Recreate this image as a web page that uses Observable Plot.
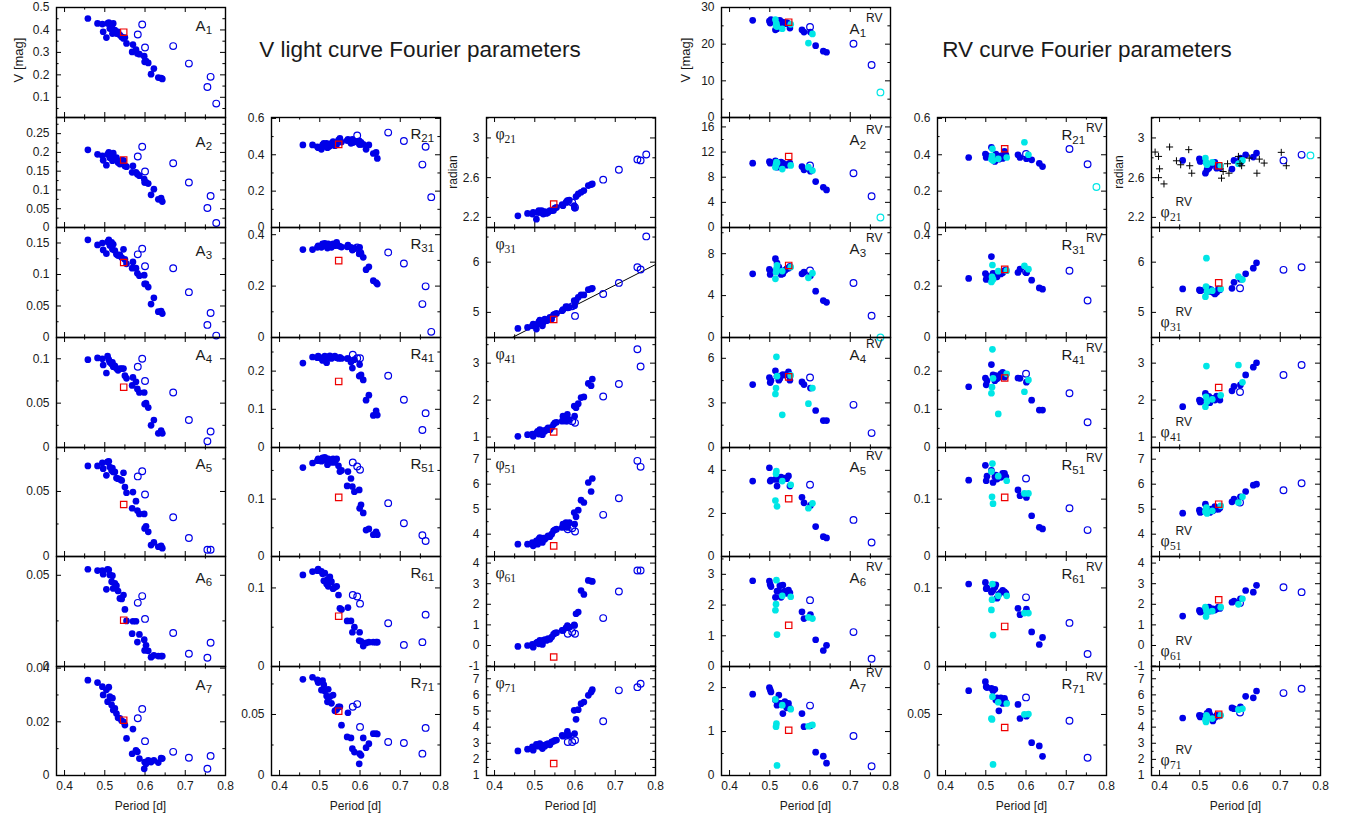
<!DOCTYPE html>
<html><head><meta charset="utf-8">
<script src="https://cdn.jsdelivr.net/npm/d3@7"></script>
<script src="https://cdn.jsdelivr.net/npm/@observablehq/plot@0.6"></script>
<style>
body{margin:0;background:#fff;}
#root{position:relative;width:1348px;height:816px;font-family:"Liberation Sans",Arial,sans-serif;color:#1a1a1a;overflow:hidden;}
.t{position:absolute;white-space:nowrap;line-height:1;}
</style></head><body><div id="root"></div>
<script>
// ---------------- DATA ----------------
// V light curve: periods of filled stars, open-circle stars, red-square star
const periodV = [0.458,0.482,0.494,0.496,0.504,0.507,0.510,0.5125,0.517,0.519,0.521,0.525,0.529,0.533,0.5375,0.542,0.5465,0.550,0.554,0.570,0.568,0.5775,0.581,0.586,0.598,0.599,0.6025,0.608,0.615,0.622,0.633,0.640,0.643];
const openPeriodV = [0.582,0.593,0.600,0.670,0.709,0.755,0.763,0.777];
const redPeriod = 0.547;

const A1 = [0.451,0.429,0.426,0.392,0.366,0.429,0.433,0.406,0.417,0.384,0.429,0.399,0.384,0.392,0.377,0.369,0.362,0.366,0.340,0.335,0.302,0.313,0.295,0.292,0.283,0.258,0.261,0.253,0.203,0.228,0.188,0.186,0.182];
const A1o = [0.38,0.424,0.322,0.328,0.25,0.146,0.191,0.072];
const A2 = [0.207,0.195,0.191,0.179,0.166,0.195,0.200,0.186,0.191,0.178,0.198,0.182,0.186,0.173,0.169,0.179,0.179,0.164,0.162,0.164,0.147,0.147,0.142,0.138,0.129,0.120,0.120,0.117,0.087,0.102,0.075,0.078,0.069];
const A2o = [0.189,0.215,0.149,0.171,0.12,0.052,0.084,0.012];
const A3 = [0.155,0.147,0.150,0.139,0.133,0.152,0.155,0.146,0.151,0.140,0.148,0.138,0.132,0.130,0.131,0.127,0.140,0.124,0.117,0.120,0.110,0.110,0.102,0.098,0.099,0.085,0.085,0.080,0.053,0.063,0.041,0.042,0.038];
const A3o = [0.132,0.141,0.113,0.11,0.072,0.02,0.039,0.003];
const A4 = [0.099,0.101,0.100,0.093,0.084,0.103,0.099,0.096,0.094,0.096,0.091,0.092,0.089,0.087,0.089,0.089,0.089,0.081,0.078,0.079,0.070,0.074,0.066,0.062,0.062,0.049,0.050,0.045,0.025,0.031,0.016,0.019,0.016];
const A4o = [0.091,0.100,0.075,0.062,0.031,0.007,0.018,null];
const A5 = [0.0696,0.0696,0.0720,0.0675,0.0624,0.0727,0.0732,0.0688,0.0662,0.0680,0.0650,0.0650,0.0603,0.0598,0.0593,0.0585,0.0644,0.0534,0.0490,0.0495,0.0371,0.0425,0.0353,0.0327,0.0327,0.0216,0.0232,0.0190,0.0088,0.0108,0.0075,0.0082,0.0064];
const A5o = [0.0616,0.0655,0.0477,0.0302,0.0142,0.0052,0.0052,null];
const A6 = [0.0533,0.0526,0.0526,0.0506,0.0423,0.0533,0.0530,0.0502,0.0465,0.0498,0.0428,0.0456,0.0443,0.0414,0.0373,0.0370,0.0392,0.0313,0.0250,0.0248,0.0180,0.0248,0.0134,0.0176,0.0147,0.0088,0.0116,0.0086,0.0051,0.0061,0.0057,0.0057,0.0057];
const A6o = [0.0349,0.0386,0.0261,0.0184,0.0070,0.0048,0.0130,null];
const A7 = [0.0355,0.0346,0.0331,0.0300,0.0319,0.0275,0.0329,0.0294,0.0263,0.0288,0.0244,0.0250,0.0231,0.0215,0.0213,0.0204,0.0200,0.0188,0.0138,0.0173,0.0081,0.0094,0.0088,0.0063,0.0025,0.0050,0.0044,0.0056,0.0050,0.0056,0.0048,0.0065,0.0063];
const A7o = [0.0213,0.0248,0.0128,0.0088,0.0066,0.0025,0.0073,null];
const redA = [0.39,0.18,0.119,0.068,0.040,0.0254,0.0206];

const R21 = [0.454,0.454,0.444,0.439,0.430,0.454,0.463,0.448,0.463,0.439,0.444,0.448,0.463,0.472,0.450,0.457,0.481,0.490,0.470,0.485,0.478,0.463,0.485,0.472,0.476,0.457,0.469,0.457,0.430,0.454,0.407,0.413,0.380];
const R21o = [0.47,0.506,0.46,0.522,0.476,0.346,0.444,0.167];
const R31 = [0.342,0.342,0.351,0.357,0.351,0.364,0.357,0.366,0.357,0.348,0.364,0.357,0.351,0.364,0.357,0.370,0.357,0.355,0.352,0.360,0.353,0.351,0.340,0.348,0.325,0.351,0.327,0.312,0.264,0.275,0.221,0.214,0.208];
const R31o = [0.345,0.35,0.33,0.331,0.288,0.13,0.199,0.022];
const R41 = [0.221,0.237,0.235,0.239,0.233,0.228,0.237,0.239,0.222,0.233,0.237,0.240,0.233,0.237,0.239,0.235,0.233,0.236,0.233,0.233,0.233,0.224,0.208,0.230,0.187,0.217,0.190,0.177,0.124,0.137,0.084,0.096,0.085];
const R41o = [0.243,0.234,0.234,0.188,0.125,0.046,0.09,null];
const R51 = [0.155,0.163,0.167,0.170,0.166,0.172,0.168,0.173,0.170,0.160,0.170,0.167,0.164,0.170,0.164,0.170,0.158,0.148,0.150,0.148,0.123,0.136,0.122,0.113,0.116,0.084,0.090,0.076,0.046,0.048,0.038,0.043,0.038];
const R51o = [0.164,0.157,0.151,0.093,0.058,0.037,0.027,null];
const R61 = [0.1165,0.1208,0.122,0.124,0.121,0.118,0.109,0.119,0.105,0.111,0.102,0.114,0.108,0.099,0.101,0.102,0.091,0.074,0.0725,0.075,0.058,0.058,0.0436,0.050,0.033,0.0436,0.032,0.026,0.030,0.031,0.031,0.031,0.031];
const R61o = [0.091,0.089,0.08,0.055,0.0275,0.031,0.066,null];
const R71 = [0.0788,0.0805,0.0783,0.0761,0.0700,0.0777,0.0742,0.0692,0.0651,0.0604,0.0706,0.0646,0.0591,0.0659,0.0530,0.0541,0.0563,0.0563,0.0412,0.0514,0.0316,0.0308,0.0220,0.0192,0.0096,0.0179,0.0165,0.0308,0.0228,0.0261,0.0343,0.0343,0.0340];
const R71o = [0.0563,0.0585,0.0398,0.0275,0.0266,0.0179,0.039,null];
const redR = [0.457,0.299,0.173,0.103,0.064,0.0527];

const F21 = [2.216,2.240,2.233,2.250,2.182,2.250,2.267,2.250,2.267,2.250,2.233,2.257,2.240,2.250,2.267,2.267,2.270,2.294,2.300,2.318,2.328,2.351,2.368,2.375,2.318,2.294,2.409,2.436,2.453,2.470,2.520,2.530,2.537];
const F21o = [2.36,2.35,2.30,2.58,2.68,2.784,2.774,2.834];
const F31 = [4.680,4.700,4.733,4.767,4.667,4.767,4.813,4.847,4.767,4.733,4.800,4.867,4.833,4.847,4.900,4.870,4.953,4.967,4.980,5.053,5.033,5.113,5.100,5.100,5.233,5.133,5.233,5.300,5.347,5.347,5.453,5.467,5.480];
const F31o = [5.10,5.12,4.93,5.367,5.587,5.90,5.853,6.513];
const F41 = [1.020,1.064,1.080,1.020,1.110,1.155,1.080,1.200,1.137,1.064,1.174,1.155,1.200,1.246,1.200,1.265,1.338,1.384,1.400,1.566,1.430,1.430,1.612,1.475,1.840,1.566,1.795,1.904,2.068,2.087,2.452,2.388,2.570];
const F41o = [1.45,1.43,1.384,2.096,2.434,3.374,2.909,null];
const F51 = [3.600,3.600,3.667,3.533,3.733,3.600,3.800,3.867,3.733,3.667,3.840,3.800,3.867,3.933,3.900,4.000,4.133,4.173,4.200,4.400,4.267,4.467,4.267,4.467,4.867,4.400,4.693,4.960,5.360,5.267,6.067,5.707,6.227];
const F51o = [4.2,4.24,4.107,4.773,5.44,6.933,6.693,null];
const F61 = [-0.045,0.000,0.050,-0.080,0.130,0.165,0.080,0.245,0.200,0.050,0.245,0.280,0.245,0.330,0.300,0.410,0.540,0.600,0.620,0.730,0.730,0.860,0.970,0.890,1.000,0.970,1.540,1.620,2.670,2.480,3.160,3.130,3.110];
const F61o = [0.57,0.65,0.57,1.33,2.62,3.64,3.64,null];
const F71 = [2.526,2.630,2.773,2.567,2.938,2.814,2.876,2.979,2.773,2.670,2.876,2.814,2.938,2.979,2.900,3.082,3.124,3.186,3.200,3.433,3.495,3.495,3.742,3.495,5.040,3.600,4.485,5.082,5.454,5.557,5.970,6.175,6.320];
const F71o = [3.08,3.08,3.19,4.36,6.28,6.48,6.69,null];
const redF = [2.334,4.86,1.137,3.533,-0.56,1.74];
// linear fit drawn in the phi31 panel: phi31 = a + b * P
const fit31 = {a: 2.688, b: 4.08};

// RV curve: filled, cyan, open, open-cyan stars
const periodRV = [0.4575,0.499,0.501,0.503,0.514,0.518,0.5225,0.525,0.528,0.5325,0.5375,0.542,0.5465,0.550,0.580,0.585,0.601,0.614,0.633,0.641];
const cyanPeriodRV = [0.514,0.5165,0.5155,0.518,0.531,0.552,0.596,0.606];
const openPeriodRV = [0.600,0.708,0.753];
const openCyanPeriodRV = [0.775];

const A1rv = [26.5,26.3,25.75,26.7,23.9,24.2,26.3,26.5,25.75,26.0,25.6,25.9,25.6,24.4,23.9,23.3,23.3,19.6,18.1,17.8];
const A1rvC = [26.7,25.6,25.0,24.8,24.2,25.4,20.3,22.8], A1rvO = [24.7,20.1,14.3], A1rvOC = [6.85];
const A2rv = [10.24,10.5,10.24,10.3,10.6,9.6,10.1,9.9,10.4,10.24,10.0,9.9,10.1,10.24,9.7,9.17,8.96,7.3,6.4,5.97];
const A2rvC = [9.6,10.4,10.0,10.3,9.3,9.87,9.6,9.07], A2rvO = [9.87,8.64,4.96], A2rvOC = [1.6];
const A3rv = [6.08,6.5,6.02,6.3,7.52,7.1,6.72,6.4,6.02,6.08,6.4,6.56,6.62,6.78,6.08,6.24,5.9,4.42,3.52,3.36];
const A3rvC = [5.6,6.56,6.24,6.88,6.34,6.72,5.7,6.14], A3rvO = [6.4,5.2,2.08], A3rvOC = [0];
const A4rv = [4.23,4.71,4.37,4.5,5.16,4.8,4.53,4.64,4.82,4.91,4.87,4.91,5.09,4.53,4.41,4.23,4.0,2.49,1.81,1.81];
const A4rvC = [3.6,6.1,4.0,4.8,2.2,4.85,2.95,4.0], A4rvO = [4.71,2.87,0.97];
const A5rv = [3.5,4.12,3.5,3.55,3.58,3.27,3.58,3.64,3.69,3.61,3.64,3.61,3.74,3.27,2.75,2.49,2.37,1.39,0.92,0.86];
const A5rvC = [2.6,3.97,3.84,2.33,3.5,3.33,2.24,2.47], A5rvO = [3.33,1.7,0.65];
const A6rv = [2.79,2.78,2.67,2.6,2.25,2.45,2.45,2.63,2.25,2.65,2.45,2.38,2.49,2.4,1.78,1.56,1.69,0.87,0.52,0.69];
const A6rvC = [1.83,2.81,2.03,1.04,2.3,2.27,1.6,1.56], A6rvO = [2.16,1.12,0.25];
const A7rv = [1.85,2.0,1.95,1.9,1.72,1.6,1.83,1.64,1.64,1.41,1.68,1.54,1.64,1.53,1.41,1.11,1.13,0.53,0.44,0.28];
const A7rvC = [1.73,1.18,1.11,0.23,1.6,1.51,1.12,1.15], A7rvO = [1.59,0.9,0.21];
const redArv = [26.0,11.3,6.88,4.75,2.68,1.34,1.03];

const R21rv = [0.385,0.404,0.385,0.395,0.441,0.39,0.363,0.404,0.39,0.376,0.394,0.38,0.419,0.4,0.4,0.385,0.378,0.372,0.353,0.335];
const R21rvC = [0.376,0.433,0.394,0.368,0.378,0.385,0.469,0.4], R21rvO = [0.404,0.432,0.348], R21rvOC = [0.223];
const R31rv = [0.23,0.249,0.226,0.24,0.315,0.25,0.247,0.236,0.236,0.25,0.247,0.252,0.26,0.262,0.253,0.266,0.252,0.223,0.193,0.188];
const R31rvC = [0.216,0.282,0.236,0.226,0.258,0.26,0.279,0.266], R31rvO = [0.256,0.26,0.144];
const R41rv = [0.159,0.182,0.164,0.175,0.217,0.19,0.175,0.188,0.18,0.184,0.193,0.197,0.184,0.19,0.182,0.181,0.171,0.124,0.098,0.098];
const R41rvC = [0.142,0.257,0.158,0.181,0.088,0.193,0.146,0.177], R41rvO = [0.193,0.142,0.066];
const R51rv = [0.133,0.159,0.132,0.14,0.15,0.129,0.139,0.142,0.135,0.139,0.138,0.145,0.145,0.139,0.116,0.106,0.103,0.071,0.051,0.048];
const R51rvC = [0.148,0.162,0.104,0.092,0.14,0.132,0.11,0.11], R51rvO = [0.136,0.084,0.046];
const R61rv = [0.105,0.107,0.099,0.1,0.0945,0.097,0.101,0.104,0.087,0.092,0.0945,0.097,0.095,0.093,0.074,0.066,0.073,0.044,0.028,0.037];
const R61rvC = [0.072,0.105,0.085,0.04,0.09,0.09,0.068,0.068], R61rvO = [0.088,0.0555,0.016];
const R71rv = [0.0695,0.0769,0.0728,0.072,0.0714,0.0695,0.0706,0.0618,0.0637,0.053,0.0637,0.059,0.0632,0.06,0.0582,0.0467,0.0486,0.0269,0.0242,0.0157];
const R71rvC = [0.0467,0.0646,0.0459,0.0091,0.06,0.059,0.05,0.0503], R71rvO = [0.064,0.0448,0.0146];
const redRrv = [0.433,0.265,0.182,0.103,0.051,0.0393];

const F21rv = [2.774,2.79,2.764,2.77,2.645,2.68,2.696,2.713,2.73,2.736,2.753,2.696,2.72,2.70,2.686,2.774,2.797,2.83,2.807,2.848];
const F21rvC = [2.797,2.747,2.753,2.73,2.753,2.72,2.74,2.774], F21rvO = [2.76,2.774,2.83], F21rvOC = [2.824];
const plusPeriod = [0.389,0.3975,0.400,0.3975,0.411,0.425,0.442,0.4525,0.4725,0.475,0.480,0.554,0.558,0.569,0.5725,0.596,0.600,0.604,0.623,0.642,0.648,0.660,0.7025,0.715];
const plusF21 = [2.858,2.814,2.689,2.600,2.537,2.909,2.770,2.730,2.882,2.720,2.645,2.595,2.662,2.740,2.645,2.814,2.740,2.720,2.797,2.645,2.787,2.747,2.855,2.720];
const F31rv = [5.467,5.447,5.433,5.44,5.45,5.42,5.467,5.42,5.453,5.4,5.367,5.40,5.467,5.45,5.48,5.6,5.66,5.767,5.88,5.987];
const F31rvC = [5.313,6.08,5.513,5.413,5.433,5.467,5.713,5.653], F31rvO = [5.48,5.847,5.9];
const F41rv = [1.822,2.0,1.95,1.97,2.18,2.07,2.1,1.93,2.0,2.05,2.0,2.11,2.05,2.0,2.25,2.37,2.41,2.68,2.89,3.01];
const F41rvC = [1.82,2.92,2.09,1.96,2.02,2.13,2.95,2.48], F41rvO = [2.22,2.68,2.95];
const F51rv = [4.84,4.96,4.867,4.9,5.2,5.027,4.933,4.867,5.0,4.933,5.1,5.0,5.0,5.05,5.293,5.4,5.493,5.707,5.96,6.0];
const F51rvC = [4.893,5.067,4.96,4.827,4.933,5.133,5.267,5.493], F51rvO = [5.267,5.76,6.04];
const F61rv = [1.43,1.7,1.62,1.65,1.78,1.7,1.86,1.67,1.78,1.78,1.72,1.78,1.86,1.8,2.1,2.16,2.27,2.67,2.59,2.92];
const F61rvC = [1.86,1.7,1.41,1.62,1.67,1.86,2.0,2.27], F61rvO = [2.06,2.83,2.59];
const F71rv = [4.567,4.73,4.63,4.7,4.67,4.85,4.98,4.77,4.63,4.38,4.6,4.73,4.69,4.7,5.19,5.14,5.25,5.91,5.82,6.24];
const F71rvC = [4.46,4.73,4.32,4.63,4.53,4.73,5.08,5.14], F71rvO = [4.9,6.11,6.38];
const redFrv = [2.72,5.587,2.34,5.2,2.22,4.79];

// axis tick labels
const xTicks = [0.4,0.5,0.6,0.7,0.8];
const xMinor = [0.45,0.55,0.65,0.75];
const ticksA = [[0.1,0.2,0.3,0.4,0.5],[0,0.05,0.1,0.15,0.2,0.25],[0,0.05,0.1,0.15],[0,0.05,0.1],[0,0.05],[0,0.05],[0,0.02,0.04]];
const ticksR = [[0,0.2,0.4,0.6],[0,0.2,0.4],[0,0.1,0.2],[0,0.1],[0,0.1],[0,0.05]];
const ticksF = [[2.2,2.6,3],[5,6],[1,2,3],[4,5,6,7],[-1,0,1,2,3,4],[1,2,3,4,5,6,7]];
const ticksArv = [[0,10,20,30],[0,4,8,12,16],[0,4,8],[0,3,6],[0,2,4],[0,1,2,3],[0,1,2]];

// ---------------- LAYOUT / STYLE ----------------
const X_DOMAIN = [0.38, 0.8];
const colLeft = [56,271,486,721,937,1151];
const rowEdge = [7,117,227,337,447,556,666,775];
const FW = 169;
const BLUE = "#0000e8", CYAN = "#00e6e6", RED = "#ee0000";
const SANS = "Liberation Sans, Arial, Helvetica, sans-serif";
const SERIF = "Liberation Serif, Times New Roman, DejaVu Serif, serif";
// label baselines (px below panel top) for the A columns
const labDyA = [23,29,28,22,21,26,23];
const labDyArv = [26,27.7,26,22,24,26,22.3];

const domA = [[0.01,0.5],[0,0.293],[0,0.1746],[0,0.124],[0,0.0838],[0,0.0603],[0,0.0406]];
const minA = [0.05,0.025,0.025,0.025,0.025,0.025,0.01];
const domR = [[0,0.605],[0,0.428],[0,0.288],[0,0.19],[0,0.14],[0,0.0893]];
const minR = [0.1,0.1,0.05,0.05,0.05,0.025];
const domF = [[2.098,3.206],[4.5,6.69],[0.717,3.694],[3.107,7.467],[-1.02,4.32],[1,7.76]];
const minF = [0.2,0.5,0.5,0.5,0.5,0.5];
const domArv = [[0,30],[0,17.5],[0,10.5],[0,7.4],[0,5.06],[0,3.58],[0,2.48]];
const minArv = [5,2,2,1.5,1,0.5,0.5];

const panels = [];
const Av = [A1,A2,A3,A4,A5,A6,A7], Avo = [A1o,A2o,A3o,A4o,A5o,A6o,A7o];
for (let i = 0; i < 7; i++) panels.push({col:0,row:i,kind:"A",sym:"A",sub:String(i+1),ldy:labDyA[i],dom:domA[i],ticks:ticksA[i],minor:minA[i],
  P:periodV,f:Av[i],oP:openPeriodV,o:Avo[i],r:redA[i]});
const Rv = [R21,R31,R41,R51,R61,R71], Rvo = [R21o,R31o,R41o,R51o,R61o,R71o];
const Fv = [F21,F31,F41,F51,F61,F71], Fvo = [F21o,F31o,F41o,F51o,F61o,F71o];
for (let i = 0; i < 6; i++) {
  panels.push({col:1,row:i+1,kind:"R",sym:"R",sub:(i+2)+"1",dom:domR[i],ticks:ticksR[i],minor:minR[i],
    P:periodV,f:Rv[i],oP:openPeriodV,o:Rvo[i],r:redR[i]});
  panels.push({col:2,row:i+1,kind:"F",sym:"\u03c6",sub:(i+2)+"1",dom:domF[i],ticks:ticksF[i],minor:minF[i],
    P:periodV,f:Fv[i],oP:openPeriodV,o:Fvo[i],r:redF[i],fit:i===1?fit31:null});
}
const Arv = [A1rv,A2rv,A3rv,A4rv,A5rv,A6rv,A7rv], ArvC = [A1rvC,A2rvC,A3rvC,A4rvC,A5rvC,A6rvC,A7rvC];
const ArvO = [A1rvO,A2rvO,A3rvO,A4rvO,A5rvO,A6rvO,A7rvO], ArvOC = [A1rvOC,A2rvOC,A3rvOC,null,null,null,null];
for (let i = 0; i < 7; i++) panels.push({col:3,row:i,kind:"Arv",sym:"A",sub:String(i+1),ldy:labDyArv[i],dom:domArv[i],ticks:ticksArv[i],minor:minArv[i],
  P:periodRV,f:Arv[i],cP:cyanPeriodRV,c:ArvC[i],oP:openPeriodRV,o:ArvO[i],ocP:openCyanPeriodRV,oc:ArvOC[i],r:redArv[i]});
const Rrv = [R21rv,R31rv,R41rv,R51rv,R61rv,R71rv], RrvC = [R21rvC,R31rvC,R41rvC,R51rvC,R61rvC,R71rvC];
const RrvO = [R21rvO,R31rvO,R41rvO,R51rvO,R61rvO,R71rvO], RrvOC = [R21rvOC,null,null,null,null,null];
const Frv = [F21rv,F31rv,F41rv,F51rv,F61rv,F71rv], FrvC = [F21rvC,F31rvC,F41rvC,F51rvC,F61rvC,F71rvC];
const FrvO = [F21rvO,F31rvO,F41rvO,F51rvO,F61rvO,F71rvO], FrvOC = [F21rvOC,null,null,null,null,null];
for (let i = 0; i < 6; i++) {
  panels.push({col:4,row:i+1,kind:"Rrv",sym:"R",sub:(i+2)+"1",dom:domR[i],ticks:ticksR[i],minor:minR[i],
    P:periodRV,f:Rrv[i],cP:cyanPeriodRV,c:RrvC[i],oP:openPeriodRV,o:RrvO[i],ocP:openCyanPeriodRV,oc:RrvOC[i],r:redRrv[i]});
  panels.push({col:5,row:i+1,kind:"Frv",sym:"\u03c6",sub:(i+2)+"1",dom:domF[i],ticks:ticksF[i],minor:minF[i],
    P:periodRV,f:Frv[i],cP:cyanPeriodRV,c:FrvC[i],oP:openPeriodRV,o:FrvO[i],ocP:openCyanPeriodRV,oc:FrvOC[i],r:redFrv[i],
    plusP:i===0?plusPeriod:null,plus:i===0?plusF21:null});
}

// ---------------- DRAW ----------------
const root = document.getElementById("root");
const fmt = d => String(Math.round(d * 1e6) / 1e6);
const pairs = (P, V) => (P && V) ? P.map((x, i) => ({x, y: V[i]})).filter(d => d.y != null) : [];

function labelMarks(p) {
  const base = {text: d => d, textAnchor: "start", lineAnchor: "bottom", fill: "#1a1a1a"};
  const t = (s, o) => Plot.text([s], {...base, ...o});
  switch (p.kind) {
    case "A": return [t(p.sym, {frameAnchor:"top-right", dx:-30, dy:p.ldy, fontSize:15, fontFamily:SANS}),
                      t(p.sub, {frameAnchor:"top-right", dx:-19.8, dy:p.ldy+3.5, fontSize:11.5, fontFamily:SANS})];
    case "R": return [t(p.sym, {frameAnchor:"top-right", dx:-30, dy:21, fontSize:15, fontFamily:SANS}),
                      t(p.sub, {frameAnchor:"top-right", dx:-19.2, dy:24.5, fontSize:11.5, fontFamily:SANS})];
    case "F": return [t(p.sym, {frameAnchor:"top-left", dx:9, dy:21.5, fontSize:16, fontFamily:SERIF}),
                      t(p.sub, {frameAnchor:"top-left", dx:18, dy:25, fontSize:11.5, fontFamily:SERIF})];
    case "Arv": return [t(p.sym, {frameAnchor:"top-right", dx:-41, dy:p.ldy, fontSize:15, fontFamily:SANS}),
                        t(p.sub, {frameAnchor:"top-right", dx:-30.8, dy:p.ldy+3.5, fontSize:11.5, fontFamily:SANS}),
                        t("RV", {frameAnchor:"top-right", dx:-24.5, dy:p.ldy-11.5, fontSize:12, fontFamily:SANS})];
    case "Rrv": return [t(p.sym, {frameAnchor:"top-right", dx:-45, dy:22.7, fontSize:15, fontFamily:SANS}),
                        t(p.sub, {frameAnchor:"top-right", dx:-34.2, dy:26, fontSize:11.5, fontFamily:SANS}),
                        t("RV", {frameAnchor:"top-right", dx:-20.5, dy:14.5, fontSize:12, fontFamily:SANS})];
    case "Frv": return [t(p.sym, {frameAnchor:"bottom-left", dx:9, dy:-11, fontSize:16, fontFamily:SERIF}),
                        t(p.sub, {frameAnchor:"bottom-left", dx:18.5, dy:-6.5, fontSize:11.5, fontFamily:SERIF}),
                        t("RV", {frameAnchor:"bottom-left", dx:24, dy:-21.5, fontSize:12, fontFamily:SANS})];
  }
  return [];
}

function makePanel(p) {
  const top = rowEdge[p.row], H = rowEdge[p.row + 1] - rowEdge[p.row];
  const bottom = p.row === 6;
  const mL = 46, mR = 8, mT = 8, mB = bottom ? 28 : 8;
  const [y0, y1] = p.dom, eps = (y1 - y0) * 1e-6;
  const major = p.ticks.filter(t => t >= y0 - eps && t <= y1 + eps);
  const minor = [];
  for (let k = Math.ceil(y0 / p.minor - 1e-6); k * p.minor <= y1 + eps; k++) {
    const t = k * p.minor;
    if (!p.ticks.some(m => Math.abs(m - t) < p.minor * 1e-3)) minor.push(t);
  }
  const TL = 5, tl = 2.6;
  const marks = [
    Plot.tickY(major, {y: d => d, insetRight: FW - TL, stroke: "#000"}),
    Plot.tickY(major, {y: d => d, insetLeft: FW - TL, stroke: "#000"}),
    Plot.tickY(minor, {y: d => d, insetRight: FW - tl, stroke: "#000"}),
    Plot.tickY(minor, {y: d => d, insetLeft: FW - tl, stroke: "#000"}),
    Plot.tickX(xTicks, {x: d => d, insetTop: H - TL, stroke: "#000"}),
    Plot.tickX(xTicks, {x: d => d, insetBottom: H - TL, stroke: "#000"}),
    Plot.tickX(xMinor, {x: d => d, insetTop: H - tl, stroke: "#000"}),
    Plot.tickX(xMinor, {x: d => d, insetBottom: H - tl, stroke: "#000"}),
    Plot.axisY({ticks: major, tickSize: 0, tickPadding: 7, tickFormat: fmt, label: null, fontSize: 12})
  ];
  if (bottom) marks.push(Plot.axisX({ticks: xTicks, tickSize: 0, tickPadding: 6, tickFormat: fmt, label: null, fontSize: 12}));
  if (p.fit) marks.push(Plot.line(X_DOMAIN, {x: d => d, y: d => p.fit.a + p.fit.b * d, stroke: "#000", strokeWidth: 1, clip: true}));
  marks.push(Plot.dot(pairs(p.P, p.f), {x: "x", y: "y", r: 3.35, fill: BLUE, stroke: "none"}));
  marks.push(Plot.dot(pairs(p.oP, p.o), {x: "x", y: "y", r: 3.35, fill: "none", stroke: BLUE, strokeWidth: 1.2}));
  if (p.c) marks.push(Plot.dot(pairs(p.cP, p.c), {x: "x", y: "y", r: 3.35, fill: CYAN, stroke: "none"}));
  if (p.oc) marks.push(Plot.dot(pairs(p.ocP, p.oc), {x: "x", y: "y", r: 3.35, fill: "none", stroke: CYAN, strokeWidth: 1.2}));
  if (p.plus) marks.push(Plot.dot(pairs(p.plusP, p.plus), {x: "x", y: "y", symbol: "plus", r: 2.4, stroke: "#000", strokeWidth: 1, fill: "none"}));
  marks.push(Plot.dot([{x: redPeriod, y: p.r}], {x: "x", y: "y", symbol: "square", r: 3.6, fill: "none", stroke: RED, strokeWidth: 1.2}));
  marks.push(Plot.frame({stroke: "#000", strokeWidth: 1.4}));
  marks.push(...labelMarks(p));

  const svg = Plot.plot({
    width: mL + FW + mR, height: mT + H + mB,
    marginLeft: mL, marginRight: mR, marginTop: mT, marginBottom: mB,
    x: bottom ? {domain: X_DOMAIN} : {domain: X_DOMAIN, axis: null},
    y: {domain: p.dom},
    style: `background:none;overflow:visible;max-width:none;font-family:${SANS};font-size:12px;color:#1a1a1a;`,
    marks
  });
  svg.style.position = "absolute";
  svg.style.left = (colLeft[p.col] - mL) + "px";
  svg.style.top = (top - mT) + "px";
  root.appendChild(svg);
}
panels.forEach(makePanel);

function addText(txt, x, y, size, rot) {
  const d = document.createElement("div");
  d.className = "t"; d.textContent = txt;
  d.style.left = x + "px"; d.style.top = y + "px"; d.style.fontSize = size + "px";
  d.style.transform = "translate(-50%,-50%)" + (rot ? " rotate(-90deg)" : "");
  root.appendChild(d);
}
addText("V light curve Fourier parameters", 420, 49.5, 22.5);
addText("RV curve Fourier parameters", 1087, 49.5, 22.5);
addText("V [mag]", 18, 60, 13, true);
addText("V [mag]", 685, 60, 13, true);
addText("radian", 453, 172, 12, true);
addText("radian", 1119, 172, 12, true);
colLeft.forEach(l => addText("Period [d]", l + FW / 2, 806, 12));
</script></body></html>
